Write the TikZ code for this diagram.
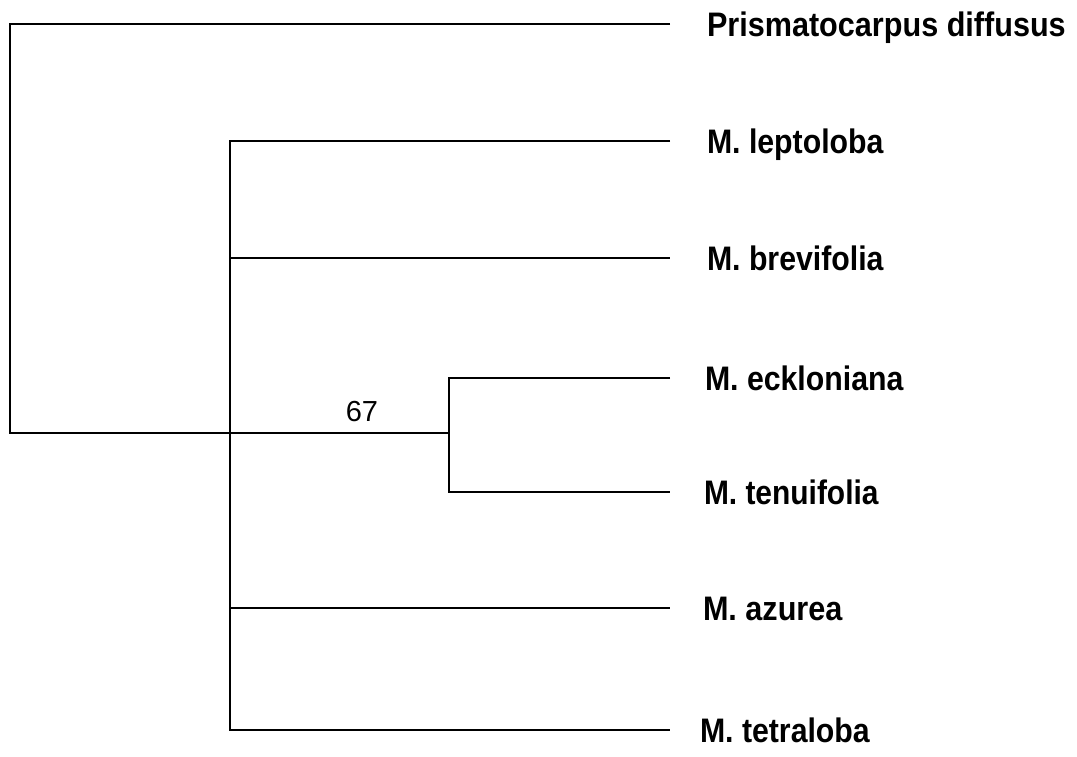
\documentclass[tikz,border=0pt]{standalone}
\usepackage{fontspec}
\setmainfont{Liberation Sans}
\begin{document}
\begin{tikzpicture}[x=1pt,y=-1pt,
  branch/.style={line width=1.4pt,black},
  leaf/.style={anchor=west,inner xsep=0pt,inner ysep=0pt,outer sep=0pt,
    text height=24pt,text depth=0pt,font=\fontsize{34}{40}\selectfont\bfseries},
  support/.style={font=\fontsize{29}{32}\selectfont,inner sep=0pt}]
\useasboundingbox (0,0) rectangle (1077,756);
\coordinate (root) at (10,433);
\coordinate (n1) at (230,433);
\coordinate (n2) at (449,433);
\node[leaf] (pd) at (670,24) {\hspace*{37pt}\scalebox{0.9}[1]{Prismatocarpus diffusus}};
\node[leaf] (lep) at (670,141) {\hspace*{37pt}\scalebox{0.89}[1]{M. leptoloba}};
\node[leaf] (bre) at (670,258) {\hspace*{37pt}\scalebox{0.89}[1]{M. brevifolia}};
\node[leaf] (eck) at (670,378) {\hspace*{35pt}\scalebox{0.89}[1]{M. eckloniana}};
\node[leaf] (ten) at (670,492) {\hspace*{34pt}\scalebox{0.88}[1]{M. tenuifolia}};
\node[leaf] (azu) at (670,608) {\hspace*{33pt}\scalebox{0.9}[1]{M. azurea}};
\node[leaf] (tet) at (670,730) {\hspace*{30pt}\scalebox{0.89}[1]{M. tetraloba}};
\node[support] (bs) at (362,412) {67};
\draw[branch] (pd.west) -| (root) -- (n1);
\draw[branch] (lep.west) -| (n1) |- (tet.west);
\draw[branch] (n1) |- (bre.west);
\draw[branch] (n1) |- (azu.west);
\draw[branch] (n1) -- (n2);
\draw[branch] (eck.west) -| (n2) |- (ten.west);
\end{tikzpicture}
\end{document}
